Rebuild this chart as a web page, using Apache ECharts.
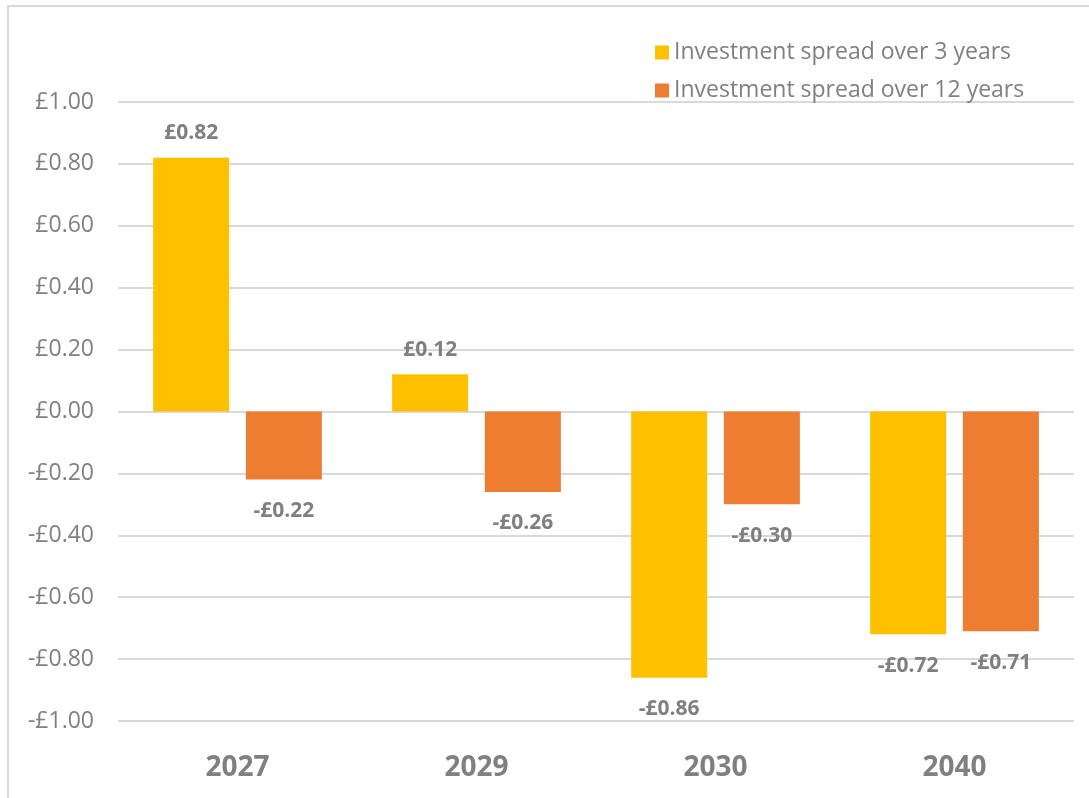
<!DOCTYPE html>
<html>
<head>
<meta charset="utf-8">
<script src="https://cdn.jsdelivr.net/npm/echarts@6/dist/echarts.min.js"></script>
<style>
  html, body { margin: 0; padding: 0; background: #fff; }
  #chart { width: 1089px; height: 798px; }
</style>
</head>
<body>
<div id="chart"></div>
<script>
// datos del grafico
var years = ['2027', '2029', '2030', '2040'];
var spread3 = [0.82, 0.12, -0.86, -0.72];
var spread12 = [-0.22, -0.26, -0.30, -0.71];
var seriesNames = ['Investment spread over 3 years', 'Investment spread over 12 years'];

function pounds(v) {
    return (v < 0 ? '-£' : '£') + Math.abs(v).toFixed(2);
}

var font = '"Open Sans", Lato, sans-serif';
var grey = '#808080';

function barSeries(name, values, color) {
    return {
        name: name,
        type: 'bar',
        barWidth: 76,
        barGap: '22%',
        itemStyle: { color: color },
        data: values.map(function (v) {
            return {
                value: v,
                label: v >= 0 ? { position: 'top', distance: 14 } : { position: 'bottom', distance: 21 }
            };
        }),
        label: {
            show: true,
            color: grey,
            fontFamily: font,
            fontSize: 21,
            fontWeight: 'bold',
            formatter: function (p) { return pounds(p.value); }
        }
    };
}

var chart = echarts.init(document.getElementById('chart'));

var option = {
    backgroundColor: '#fff',
    animation: false,
    graphic: [{
        type: 'rect',
        shape: { x: 8, y: 6, width: 1200, height: 900 },
        style: { fill: 'none', stroke: '#d9d9d9', lineWidth: 2 },
        silent: true
    }],
    legend: {
        orient: 'vertical',
        left: 650,
        top: 36,
        itemWidth: 14,
        itemHeight: 14,
        itemGap: 15,
        icon: 'rect',
        textStyle: { color: grey, fontFamily: font, fontSize: 23 },
        data: seriesNames
    },
    grid: { left: 118, right: 15, top: 102, bottom: 77 },
    xAxis: {
        type: 'category',
        data: years,
        axisLine: { show: false },
        axisTick: { show: false },
        axisLabel: {
            margin: 33,
            color: grey,
            fontFamily: font,
            fontSize: 28,
            fontWeight: 'bold'
        }
    },
    yAxis: {
        type: 'value',
        min: -1,
        max: 1,
        interval: 0.2,
        axisLine: { show: false },
        axisTick: { show: false },
        splitLine: { lineStyle: { color: '#d9d9d9', width: 2 } },
        axisLabel: {
            margin: 24,
            color: grey,
            fontFamily: font,
            fontSize: 23,
            formatter: function (v) { return pounds(v); }
        }
    },
    series: [
        barSeries(seriesNames[0], spread3, '#ffc000'),
        barSeries(seriesNames[1], spread12, '#ed7d31')
    ]
};

chart.setOption(option);
</script>
</body>
</html>
